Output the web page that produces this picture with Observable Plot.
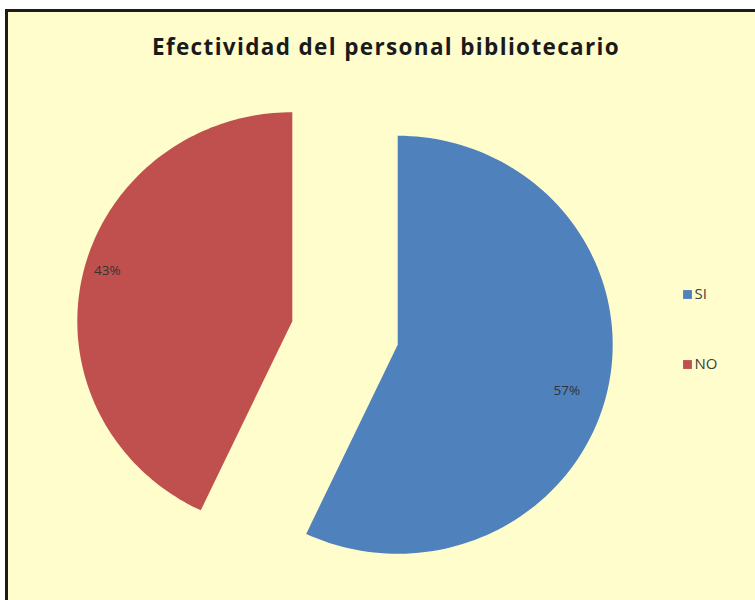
<!DOCTYPE html>
<html>
<head>
<meta charset="utf-8">
<script src="https://cdn.jsdelivr.net/npm/d3@7"></script>
<script src="https://cdn.jsdelivr.net/npm/@observablehq/plot@0.6"></script>
<style>
  html, body { margin: 0; padding: 0; background: #ffffff; width: 755px; height: 600px; overflow: hidden; }
  #frame { position: absolute; left: 5px; top: 9px; width: 760px; height: 600px;
           border-left: 3px solid #1c1c1c; border-top: 3px solid #1c1c1c;
           background: #FFFDCC; overflow: hidden; }
  #title { position: absolute; left: 0; top: 19px; width: 756px; text-align: center;
           font-family: "Open Sans", Lato, sans-serif; font-weight: bold; font-size: 22.5px;
           letter-spacing: 1.35px; color: #1a1a1a; white-space: nowrap; }
  #chart { position: absolute; left: 0; top: 68px; }
</style>
</head>
<body>
<div id="frame">
  <div id="title">Efectividad del personal bibliotecario</div>
  <div id="chart"></div>
</div>
<script>
// ---- data ----
const categories = ["SI", "NO"];
const values = [57, 43];
const labels = ["57%", "43%"];
const colors = ["#4F81BD", "#C0504D"];

// ---- layout (page pixel coordinates) ----
const offX = 8, offY = 80;           // svg origin on page
const W = 755, H = 520;
const cx = 344.5, cy = 332.5;        // pie centre
const rx = 215, ry = 209;            // pie radii
const explode = 54;                  // slice explosion
const labelFrac = 0.855;
const labelTurn = 3 * Math.PI / 180; // label placement offset angle

const total = d3.sum(values);
const pts = [];
const labelRows = [];
let start = 0;
categories.forEach((c, i) => {
  const a0 = start / total * 2 * Math.PI;
  const a1 = (start + values[i]) / total * 2 * Math.PI;
  start += values[i];
  const mid = (a0 + a1) / 2;
  const ox = cx + explode * Math.sin(mid);
  const oy = cy - explode * Math.cos(mid);
  pts.push({key: c, x: ox, y: oy});
  const n = 120;
  for (let k = 0; k <= n; k++) {
    const a = a0 + (a1 - a0) * k / n;
    pts.push({key: c, x: ox + rx * Math.sin(a), y: oy - ry * Math.cos(a)});
  }
  const la = mid + labelTurn;
  labelRows.push({key: c, text: labels[i],
    x: ox + labelFrac * rx * Math.sin(la), y: oy - labelFrac * ry * Math.cos(la)});
});

const legendRows = categories.map((c, i) => ({key: c, x: 687, y: 294 + i * 70}));

const chart = Plot.plot({
  width: W, height: H,
  margin: 0,
  x: {domain: [offX, offX + W], range: [0, W], axis: null},
  y: {domain: [offY, offY + H], range: [0, H], axis: null},
  color: {domain: categories, range: colors},
  style: {background: "transparent", fontFamily: "'Open Sans', Lato, sans-serif"},
  marks: [
    Plot.line(pts, {x: "x", y: "y", z: "key", fill: "key", stroke: "none", curve: "linear-closed"}),
    Plot.text(labelRows, {x: "x", y: "y", text: "text", fill: "#333", fontSize: 13.5, dx: -8, dy: -2}),
    Plot.dot(legendRows, {x: "x", y: "y", symbol: "square", r: 5, fill: "key", stroke: "none"}),
    Plot.text(legendRows, {x: d => d.x + 7, y: "y", text: "key", textAnchor: "start", fill: "#404040", fontSize: 15})
  ]
});
document.getElementById("chart").appendChild(chart);
</script>
</body>
</html>
